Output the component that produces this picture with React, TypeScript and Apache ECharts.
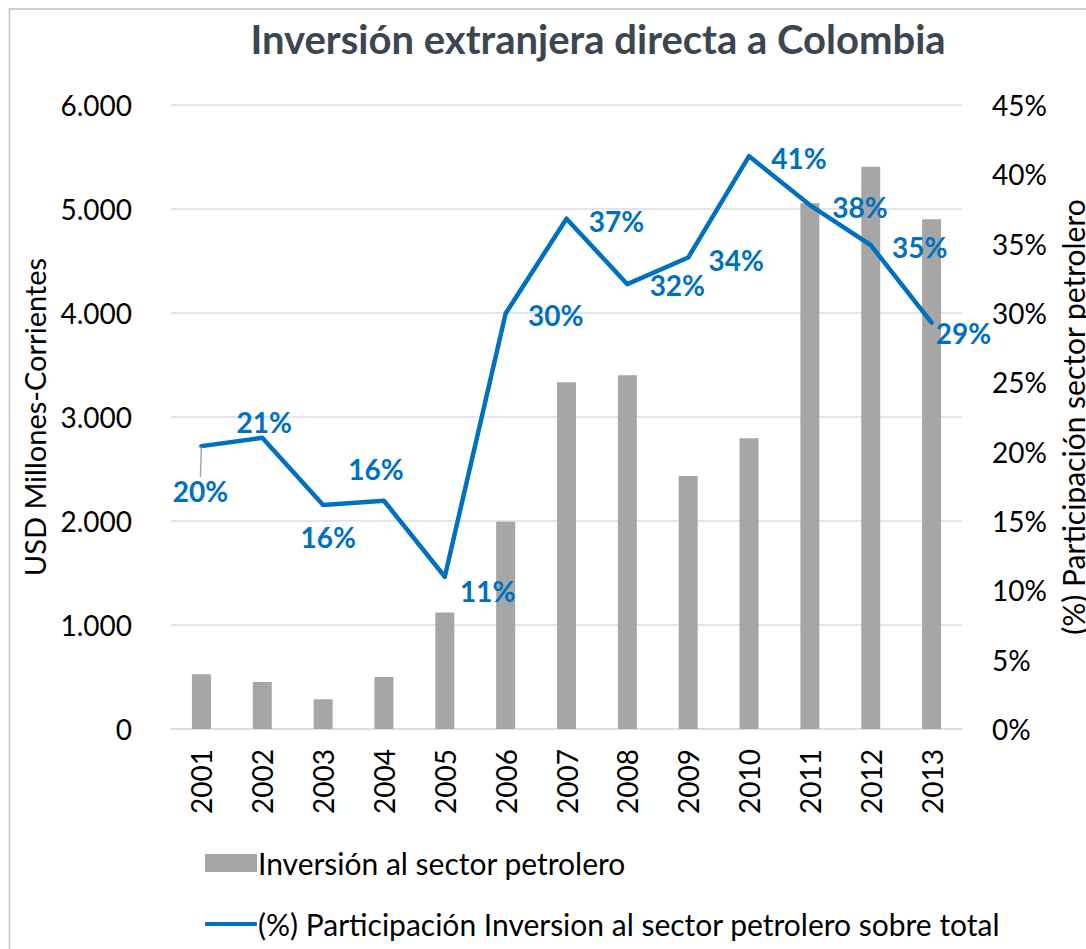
import React, { useEffect, useRef } from "react";
import * as echarts from "echarts";

const years = ["2001", "2002", "2003", "2004", "2005", "2006", "2007", "2008", "2009", "2010", "2011", "2012", "2013"];
const inversion = [526, 452, 286, 500, 1120, 1993, 3334, 3401, 2433, 2795, 5055, 5407, 4901];
const participacion = [20.4, 21.0, 16.15, 16.46, 10.98, 29.97, 36.8, 32.08, 34.0, 41.31, 37.78, 34.9, 29.3];

const barName = "Inversión al sector petrolero";
const lineName = "(%) Participación Inversion al sector petrolero sobre total";
const titleText = "Inversión extranjera directa a Colombia";
const leftAxisName = "USD Millones-Corrientes";
const rightAxisName = "(%) Participación sector petrolero";

const FONT = "Lato";

export default function App() {
  const ref = useRef<HTMLDivElement>(null);
  useEffect(() => {
    if (!ref.current) return;
    const chart = echarts.init(ref.current, null, { renderer: "svg" });
    const labelOffsets: number[][] = [
      [-1, 45], [2, -16], [5, 32], [-8, -32], [43, 14], [50, 2], [50, 2],
      [50, 1], [48, 2], [50, 2], [50, 2], [49, 2], [32, 10],
    ];
    const lineData = participacion.map((v, i) => ({
      value: v,
      label: { offset: labelOffsets[i] },
      labelLine: i === 0 ? { show: true, lineStyle: { color: "#a6a6a6", width: 1.5 } } : undefined,
    }));
    const fmt = (v: number) => String(v).replace(/\B(?=(\d{3})+(?!\d))/g, ".");
    chart.setOption({
      animation: false,
      backgroundColor: "#ffffff",
      textStyle: { fontFamily: FONT },
      title: {
        text: titleText,
        left: 593,
        textAlign: "center",
        top: 14,
        textStyle: { fontFamily: FONT, fontSize: 40, fontWeight: "bold", color: "#3b4651" },
      },
      graphic: [
        {
          type: "rect",
          shape: { x: 9.5, y: 9, width: 1200, height: 1200 },
          style: { fill: "none", stroke: "#bfbfbf", lineWidth: 1.5 },
          silent: true,
        },
      ],
      grid: { left: 171, right: 124, top: 105, bottom: 220, containLabel: false, outerBoundsMode: "none" },
      legend: [
        {
          orient: "vertical",
          left: 200,
          top: 843,
          itemWidth: 52,
          itemHeight: 18,
          itemGap: 10,
          data: [{ name: barName, icon: "rect" }],
          textStyle: { fontFamily: FONT, fontSize: 30, color: "#000000", padding: [0, 0, 0, -4] },
        },
        {
          orient: "vertical",
          left: 200,
          top: 904,
          itemWidth: 52,
          itemHeight: 4,
          data: [{ name: lineName, icon: "roundRect" }],
          textStyle: { fontFamily: FONT, fontSize: 30, color: "#000000", padding: [0, 0, 0, -4] },
        },
      ],
      xAxis: {
        type: "category",
        data: years,
        axisTick: { show: false },
        axisLine: { show: true, lineStyle: { color: "#d9dde2", width: 1.5 } },
        axisLabel: { rotate: 90, margin: 20, fontFamily: FONT, fontSize: 28, color: "#000000" },
      },
      yAxis: [
        {
          type: "value",
          min: 0,
          max: 6000,
          interval: 1000,
          name: leftAxisName,
          nameLocation: "middle",
          nameRotate: 90,
          nameGap: 122,
          nameTextStyle: { fontFamily: FONT, fontSize: 29, color: "#000000" },
          axisLine: { show: false },
          axisTick: { show: false },
          axisLabel: { margin: 39, fontFamily: FONT, fontSize: 28, color: "#000000", formatter: (v: number) => fmt(v) },
          splitLine: { show: true, lineStyle: { color: "#d9dde2", width: 1.5 } },
        },
        {
          type: "value",
          min: 0,
          max: 45,
          interval: 5,
          position: "right",
          name: rightAxisName,
          nameLocation: "middle",
          nameRotate: 90,
          nameGap: 96,
          nameTextStyle: { fontFamily: FONT, fontSize: 30, color: "#000000" },
          axisLine: { show: false },
          axisTick: { show: false },
          axisLabel: { margin: 30, fontFamily: FONT, fontSize: 28, color: "#000000", formatter: (v: number) => v + "%" },
          splitLine: { show: false },
        },
      ],
      series: [
        {
          name: barName,
          type: "bar",
          data: inversion,
          barWidth: 19,
          itemStyle: { color: "#a6a6a6" },
          yAxisIndex: 0,
        },
        {
          name: lineName,
          type: "line",
          yAxisIndex: 1,
          data: lineData,
          symbol: "circle",
          symbolSize: 1,
          showSymbol: true,
          itemStyle: { color: "#0070c0" },
          lineStyle: { color: "#0070c0", width: 4.5, join: "round", cap: "round" },
          label: {
            show: true,
            position: "inside",
            align: "center",
            verticalAlign: "middle",
            fontFamily: FONT,
            fontSize: 28,
            fontWeight: "bold",
            color: "#0070c0",
            formatter: (p: any) => Math.round(p.value) + "%",
          },
          z: 3,
        },
      ],
    });
    return () => chart.dispose();
  }, []);
  return <div ref={ref} style={{ position: "fixed", left: 0, top: 0, width: 1086, height: 949 }} />;
}
